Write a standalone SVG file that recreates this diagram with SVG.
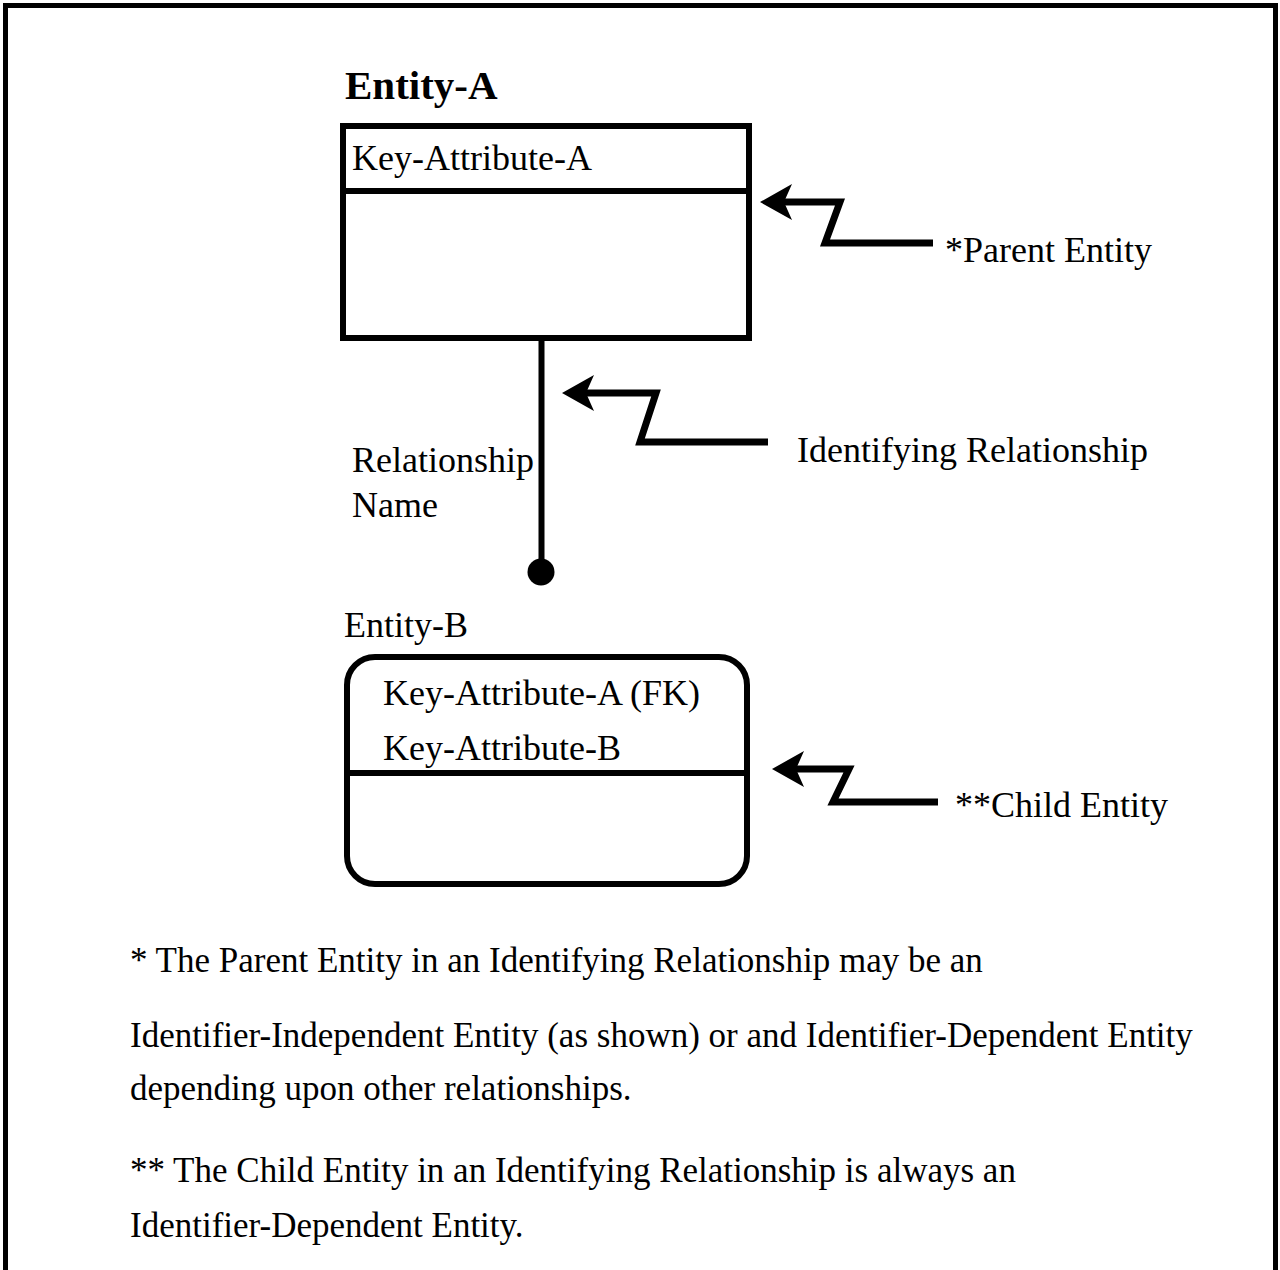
<svg xmlns="http://www.w3.org/2000/svg" width="1280" height="1270" viewBox="0 0 1280 1270">
  <style>
    text { font-family: "Liberation Serif", "Times New Roman", serif; font-size: 36px; fill: #000; }
    .title { font-weight: bold; font-size: 41px; }
    .note { font-size: 35px; }
    .box { fill: #fff; stroke: #000; stroke-width: 6; }
    .line { fill: none; stroke: #000; stroke-width: 6; }
    .ptr { fill: none; stroke: #000; stroke-width: 7; stroke-linejoin: miter; }
  </style>
  <defs>
    <marker id="arrow" markerUnits="userSpaceOnUse" viewBox="-2 -20 36 40" refX="8" refY="0" markerWidth="36" markerHeight="40" orient="auto">
      <path d="M32,0 L0,-18 L8,0 L0,18 Z" fill="#000"/>
    </marker>
  </defs>
  <rect x="0" y="0" width="1280" height="1270" fill="#fff"/>
  <path d="M5.5,1270 V5.5 H1275.5 V1270" fill="none" stroke="#000" stroke-width="5"/>

  <g id="entity-a">
    <text class="title" x="345" y="99">Entity-A</text>
    <rect class="box" x="343" y="126" width="406" height="212"/>
    <line class="line" x1="343" y1="191" x2="749" y2="191"/>
    <text x="352" y="170">Key-Attribute-A</text>
  </g>

  <g id="entity-b">
    <text x="344" y="637">Entity-B</text>
    <rect class="box" x="347" y="657" width="400" height="227" rx="28" ry="28"/>
    <line class="line" x1="347" y1="773" x2="747" y2="773"/>
    <text x="383" y="705">Key-Attribute-A (FK)</text>
    <text x="383" y="760">Key-Attribute-B</text>
  </g>

  <g id="connectors">
    <g id="relationship">
      <line class="line" x1="541.5" y1="341" x2="541.5" y2="565"/>
      <circle cx="541" cy="572" r="13.5" fill="#000"/>
      <text x="352" y="472">Relationship</text>
      <text x="352" y="517">Name</text>
    </g>
    <g id="pointer-parent">
      <path class="ptr" d="M933,243 H825 L840,202 H784" marker-end="url(#arrow)"/>
      <text x="945" y="262">*Parent Entity</text>
    </g>
    <g id="pointer-identifying">
      <path class="ptr" d="M768,442 H640 L656,393 H586" marker-end="url(#arrow)"/>
      <text x="797" y="462">Identifying Relationship</text>
    </g>
    <g id="pointer-child">
      <path class="ptr" d="M938,802 H833 L849,769 H796" marker-end="url(#arrow)"/>
      <text x="955" y="817">**Child Entity</text>
    </g>
  </g>

  <g id="notes">
    <text class="note" x="130" y="972">* The Parent Entity in an Identifying Relationship may be an</text>
    <text class="note" x="130" y="1047">Identifier-Independent Entity (as shown) or and Identifier-Dependent Entity</text>
    <text class="note" x="130" y="1100">depending upon other relationships.</text>
    <text class="note" x="130" y="1182">** The Child Entity in an Identifying Relationship is always an</text>
    <text class="note" x="130" y="1237">Identifier-Dependent Entity.</text>
  </g>
</svg>
